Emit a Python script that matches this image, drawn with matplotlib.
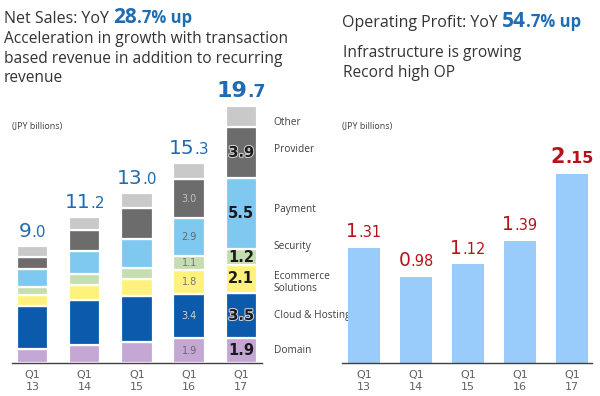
import numpy as np
import matplotlib.pyplot as plt
import matplotlib.patheffects as pe

quarters = ['Q1\n13', 'Q1\n14', 'Q1\n15', 'Q1\n16', 'Q1\n17']
segments = ['Domain', 'Cloud & Hosting', 'Ecommerce\nSolutions', 'Security',
            'Payment', 'Provider', 'Other']
domain = [1.1, 1.4, 1.6, 1.9, 1.9]
cloud = [3.3, 3.4, 3.5, 3.4, 3.5]
ecommerce = [0.8, 1.2, 1.3, 1.8, 2.1]
security = [0.6, 0.8, 0.9, 1.1, 1.2]
payment = [1.4, 1.8, 2.2, 2.9, 5.5]
provider = [0.9, 1.6, 2.4, 3.0, 3.9]
other = [0.9, 1.0, 1.1, 1.2, 1.6]
net_sales = [9.0, 11.2, 13.0, 15.3, 19.7]
op_profit = [1.31, 0.98, 1.12, 1.39, 2.15]

seg_colors = ['#c4a7d5', '#0b5aab', '#fff27c', '#c5deb1', '#7fc9f1', '#6c6c6c', '#c9c9c9']
blue_txt = '#1f6cb3'
red_txt = '#b5121b'
txt_font = 'Open Sans'

fig = plt.figure(figsize=(6, 3.96), dpi=100)
W, H = 600, 396


def px_axes(x0, y_top, x1, y_bot):
    return fig.add_axes([x0 / W, 1 - y_bot / H, (x1 - x0) / W, (y_bot - y_top) / H])


ax1 = px_axes(12, 30, 262, 363)
ax2 = px_axes(342, 30, 592, 363)
ax2.patch.set_visible(False)

x = np.arange(len(quarters))
stack = np.array([domain, cloud, ecommerce, security, payment, provider, other])
bottoms = np.vstack([np.zeros(len(x)), np.cumsum(stack, axis=0)[:-1]])
for vals, bot, c in zip(stack, bottoms, seg_colors):
    ax1.bar(x, vals, bottom=bot, width=0.6, color=c, edgecolor='white', linewidth=1.6)

ax1.set_xlim((12 - 32.5) / 52.2, (262 - 32.5) / 52.2)
ax1.set_ylim(0, 333 / 13.05)

ax2.bar(x, op_profit, width=0.62, color='#99cbfb')
ax2.set_xlim((342 - 364) / 52, (592 - 364) / 52)
ax2.set_ylim(0, 333 / 88.0)

for ax in (ax1, ax2):
    for s in ['top', 'left', 'right']:
        ax.spines[s].set_visible(False)
    ax.spines['bottom'].set_color('#404040')
    ax.spines['bottom'].set_linewidth(1.0)
    ax.set_yticks([])
    ax.set_xticks(x)
    ax.set_xticklabels(quarters, fontsize=8, color='#606060', linespacing=1.3)
    ax.tick_params(axis='x', length=0, pad=5)
    ax.text(0.0, 1 - 97 / 333, '(JPY billions)', transform=ax.transAxes,
            fontsize=6.5, color='#404040', family=txt_font, ha='left', va='center')

# segment labels on Q1 16 (small, grey) and Q1 17 (bold)
small_cols = ['#6a6a6a', '#c8d4e4', '#777777', '#777777', '#666666', '#c0c0c0']
for k in range(6):
    v = stack[k, 3]
    ax1.text(3, bottoms[k, 3] + v / 2, f'{v:.1f}', ha='center', va='center',
             fontsize=7, color=small_cols[k])
    v = stack[k, 4]
    t = ax1.text(4, bottoms[k, 4] + v / 2, f'{v:.1f}', ha='center', va='center',
                 fontsize=10.5, fontweight='bold', color='#1a1a1a')
    if k in (1, 5):
        t.set_path_effects([pe.withStroke(linewidth=1.5, foreground='#d0d0d0')])

# legend names beside last bar
nudge = [0, 0, -0.3, 0.8, 0.3, 0.2, -0.5]
for k, name in enumerate(segments):
    yc = bottoms[k, 4] + stack[k, 4] / 2 + nudge[k]
    ax1.text(4.62, yc, name, ha='left', va='center', fontsize=7.3, color='#404040',
             family=txt_font, clip_on=False, linespacing=1.1)


def split_label(ax, xv, yv, s, big, small, color, bold, off):
    i = s.index('.')
    w = 'bold' if bold else 'normal'
    t1 = ax.annotate(s[:i], (xv, yv), xytext=(0, off), textcoords='offset points',
                     ha='right', va='baseline', fontsize=big, color=color, fontweight=w)
    t2 = ax.annotate(s[i:], (xv, yv), xytext=(0, off), textcoords='offset points',
                     ha='left', va='baseline', fontsize=small, color=color, fontweight=w)
    return t1, t2, off


labels = []
for i, v in enumerate(net_sales):
    last = i == len(net_sales) - 1
    labels.append(split_label(ax1, i, v, f'{v:.1f}', 16 if last else 14.5,
                              12.5 if last else 11, blue_txt, last, 6.5))
for i, v in enumerate(op_profit):
    last = i == len(op_profit) - 1
    labels.append(split_label(ax2, i, v, f'{v:.2f}', 15 if last else 13.5,
                              11.5 if last else 10.5, red_txt, last, 7.5))

fig.canvas.draw()
r = fig.canvas.get_renderer()
for t1, t2, off in labels:
    w1 = t1.get_window_extent(r).width
    w2 = t2.get_window_extent(r).width
    shift = (w1 - w2) / 2 * 72 / fig.dpi
    t1.xyann = (shift, off)
    t2.xyann = (shift, off)


def text_run(x0, y, pieces):
    # pieces: (text, size, weight, color)
    xp = x0
    for s, size, weight, color in pieces:
        t = fig.text(xp / W, 1 - y / H, s, fontsize=size, fontweight=weight, color=color,
                     family=txt_font, ha='left', va='baseline')
        fig.canvas.draw()
        xp += t.get_window_extent(fig.canvas.get_renderer()).width


title_col = '#333333'
text_run(4, 23, [('Net Sales: YoY ', 11.5, 'normal', title_col),
                 ('28', 15, 'bold', blue_txt), ('.7% up', 12, 'bold', blue_txt)])
for yy, line in zip([43, 63, 82], ['Acceleration in growth with transaction',
                                    'based revenue in addition to recurring', 'revenue']):
    fig.text(4 / W, 1 - yy / H, line, fontsize=11.2, color=title_col, family=txt_font,
             ha='left', va='baseline')

text_run(342, 27, [('Operating Profit: YoY ', 11.5, 'normal', title_col),
                   ('54', 15, 'bold', blue_txt), ('.7% up', 12, 'bold', blue_txt)])
for yy, line in zip([57, 77], ['Infrastructure is growing', 'Record high OP']):
    fig.text(343 / W, 1 - yy / H, line, fontsize=11.2, color=title_col, family=txt_font,
             ha='left', va='baseline')

fig.savefig('out.png', dpi=100, facecolor='white')
